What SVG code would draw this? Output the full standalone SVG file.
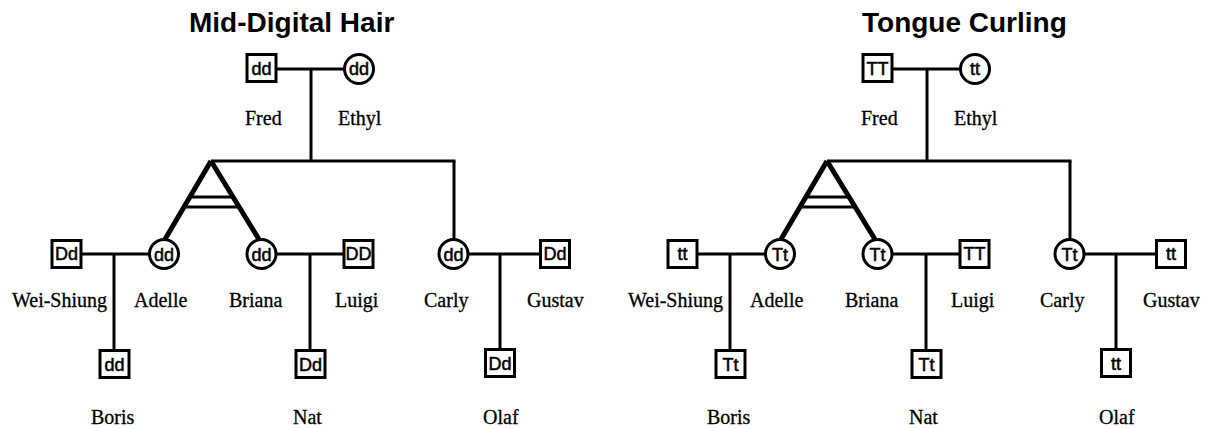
<svg xmlns="http://www.w3.org/2000/svg" width="1206" height="429" viewBox="0 0 1206 429">
<style>
.sq{fill:#fff;stroke:#000;stroke-width:3}
.ci{fill:#fff;stroke:#000;stroke-width:3}
.ln{stroke:#000;stroke-width:3;fill:none}
.leg{stroke:#000;stroke-width:5;fill:none}
.gt{font-family:"Liberation Sans",Arial,sans-serif;font-size:18px;text-anchor:middle;fill:#000;stroke:#000;stroke-width:0.5}
.nm{font-family:"Liberation Serif","Times New Roman",serif;font-size:20px;fill:#000;stroke:#000;stroke-width:0.3}
.ti{font-family:"Liberation Sans",Arial,sans-serif;font-size:28px;font-weight:bold;fill:#000}
</style>
<rect width="1206" height="429" fill="#fff"/>
<text class="ti" x="189" y="32">Mid-Digital Hair</text>
<text class="ti" x="862" y="32">Tongue Curling</text>
<g id="panel-mid-digital">
<g id="connectors-left">
<line class="ln" x1="277" y1="69" x2="345" y2="69"/>
<line class="ln" x1="311" y1="69" x2="311" y2="161"/>
<line class="ln" x1="211" y1="161" x2="455.5" y2="161"/>
<line class="ln" x1="454" y1="161" x2="454" y2="240"/>
<line class="leg" x1="211" y1="161" x2="164" y2="241"/>
<line class="leg" x1="211" y1="161" x2="260" y2="241"/>
<line class="ln" x1="189.5" y1="197" x2="233.5" y2="197"/>
<line class="ln" x1="183.5" y1="207" x2="239.5" y2="207"/>
<line class="ln" x1="82" y1="254" x2="150" y2="254"/>
<line class="ln" x1="114" y1="254" x2="114" y2="349"/>
<line class="ln" x1="276" y1="254" x2="343" y2="254"/>
<line class="ln" x1="310" y1="254" x2="310" y2="349"/>
<line class="ln" x1="468" y1="254" x2="539" y2="254"/>
<line class="ln" x1="500" y1="254" x2="500" y2="348"/>
</g>
<g id="L-fred"><rect class="sq" x="247" y="54.5" width="29" height="27"/><text class="gt" x="261.5" y="74.5">dd</text><text class="nm" x="245" y="125">Fred</text></g>
<g id="L-ethyl"><circle class="ci" cx="359" cy="69" r="14.5"/><text class="gt" x="359" y="75">dd</text><text class="nm" x="338" y="125">Ethyl</text></g>
<g id="L-weishiung"><rect class="sq" x="52" y="240.5" width="29" height="27"/><text class="gt" x="66.5" y="260">Dd</text><text class="nm" x="12" y="307">Wei-Shiung</text></g>
<g id="L-adelle"><circle class="ci" cx="164" cy="254" r="14.5"/><text class="gt" x="164" y="260.5">dd</text><text class="nm" x="134" y="307">Adelle</text></g>
<g id="L-briana"><circle class="ci" cx="261.5" cy="254" r="14.5"/><text class="gt" x="261.5" y="260.5">dd</text><text class="nm" x="229" y="307">Briana</text></g>
<g id="L-luigi"><rect class="sq" x="344" y="240.5" width="29" height="27"/><text class="gt" x="358.5" y="260">DD</text><text class="nm" x="335" y="307">Luigi</text></g>
<g id="L-carly"><circle class="ci" cx="453.5" cy="254" r="14.5"/><text class="gt" x="453.5" y="260.5">dd</text><text class="nm" x="424" y="307">Carly</text></g>
<g id="L-gustav"><rect class="sq" x="540.5" y="240.5" width="29" height="27"/><text class="gt" x="555" y="260">Dd</text><text class="nm" x="527" y="307">Gustav</text></g>
<g id="L-boris"><rect class="sq" x="100" y="350.5" width="29" height="27"/><text class="gt" x="114.5" y="370.5">dd</text><text class="nm" x="91" y="424">Boris</text></g>
<g id="L-nat"><rect class="sq" x="296" y="350.5" width="29" height="27"/><text class="gt" x="310.5" y="370.5">Dd</text><text class="nm" x="293" y="424">Nat</text></g>
<g id="L-olaf"><rect class="sq" x="485.5" y="349.5" width="29" height="27"/><text class="gt" x="500" y="369.5">Dd</text><text class="nm" x="483" y="424">Olaf</text></g>
</g>
<g id="panel-tongue" transform="translate(616 0)">
<g id="connectors-right">
<line class="ln" x1="277" y1="69" x2="345" y2="69"/>
<line class="ln" x1="311" y1="69" x2="311" y2="161"/>
<line class="ln" x1="211" y1="161" x2="455.5" y2="161"/>
<line class="ln" x1="454" y1="161" x2="454" y2="240"/>
<line class="leg" x1="211" y1="161" x2="164" y2="241"/>
<line class="leg" x1="211" y1="161" x2="260" y2="241"/>
<line class="ln" x1="189.5" y1="197" x2="233.5" y2="197"/>
<line class="ln" x1="183.5" y1="207" x2="239.5" y2="207"/>
<line class="ln" x1="82" y1="254" x2="150" y2="254"/>
<line class="ln" x1="114" y1="254" x2="114" y2="349"/>
<line class="ln" x1="276" y1="254" x2="343" y2="254"/>
<line class="ln" x1="310" y1="254" x2="310" y2="349"/>
<line class="ln" x1="468" y1="254" x2="539" y2="254"/>
<line class="ln" x1="500" y1="254" x2="500" y2="348"/>
</g>
<g id="R-fred"><rect class="sq" x="247" y="54.5" width="29" height="27"/><text class="gt" x="261.5" y="74.5">TT</text><text class="nm" x="245" y="125">Fred</text></g>
<g id="R-ethyl"><circle class="ci" cx="359" cy="69" r="14.5"/><text class="gt" x="359" y="75">tt</text><text class="nm" x="338" y="125">Ethyl</text></g>
<g id="R-weishiung"><rect class="sq" x="52" y="240.5" width="29" height="27"/><text class="gt" x="66.5" y="260">tt</text><text class="nm" x="12" y="307">Wei-Shiung</text></g>
<g id="R-adelle"><circle class="ci" cx="164" cy="254" r="14.5"/><text class="gt" x="164" y="260.5">Tt</text><text class="nm" x="134" y="307">Adelle</text></g>
<g id="R-briana"><circle class="ci" cx="261.5" cy="254" r="14.5"/><text class="gt" x="261.5" y="260.5">Tt</text><text class="nm" x="229" y="307">Briana</text></g>
<g id="R-luigi"><rect class="sq" x="344" y="240.5" width="29" height="27"/><text class="gt" x="358.5" y="260">TT</text><text class="nm" x="335" y="307">Luigi</text></g>
<g id="R-carly"><circle class="ci" cx="453.5" cy="254" r="14.5"/><text class="gt" x="453.5" y="260.5">Tt</text><text class="nm" x="424" y="307">Carly</text></g>
<g id="R-gustav"><rect class="sq" x="540.5" y="240.5" width="29" height="27"/><text class="gt" x="555" y="260">tt</text><text class="nm" x="527" y="307">Gustav</text></g>
<g id="R-boris"><rect class="sq" x="100" y="350.5" width="29" height="27"/><text class="gt" x="114.5" y="370.5">Tt</text><text class="nm" x="91" y="424">Boris</text></g>
<g id="R-nat"><rect class="sq" x="296" y="350.5" width="29" height="27"/><text class="gt" x="310.5" y="370.5">Tt</text><text class="nm" x="293" y="424">Nat</text></g>
<g id="R-olaf"><rect class="sq" x="485.5" y="349.5" width="29" height="27"/><text class="gt" x="500" y="369.5">tt</text><text class="nm" x="483" y="424">Olaf</text></g>
</g>
</svg>
